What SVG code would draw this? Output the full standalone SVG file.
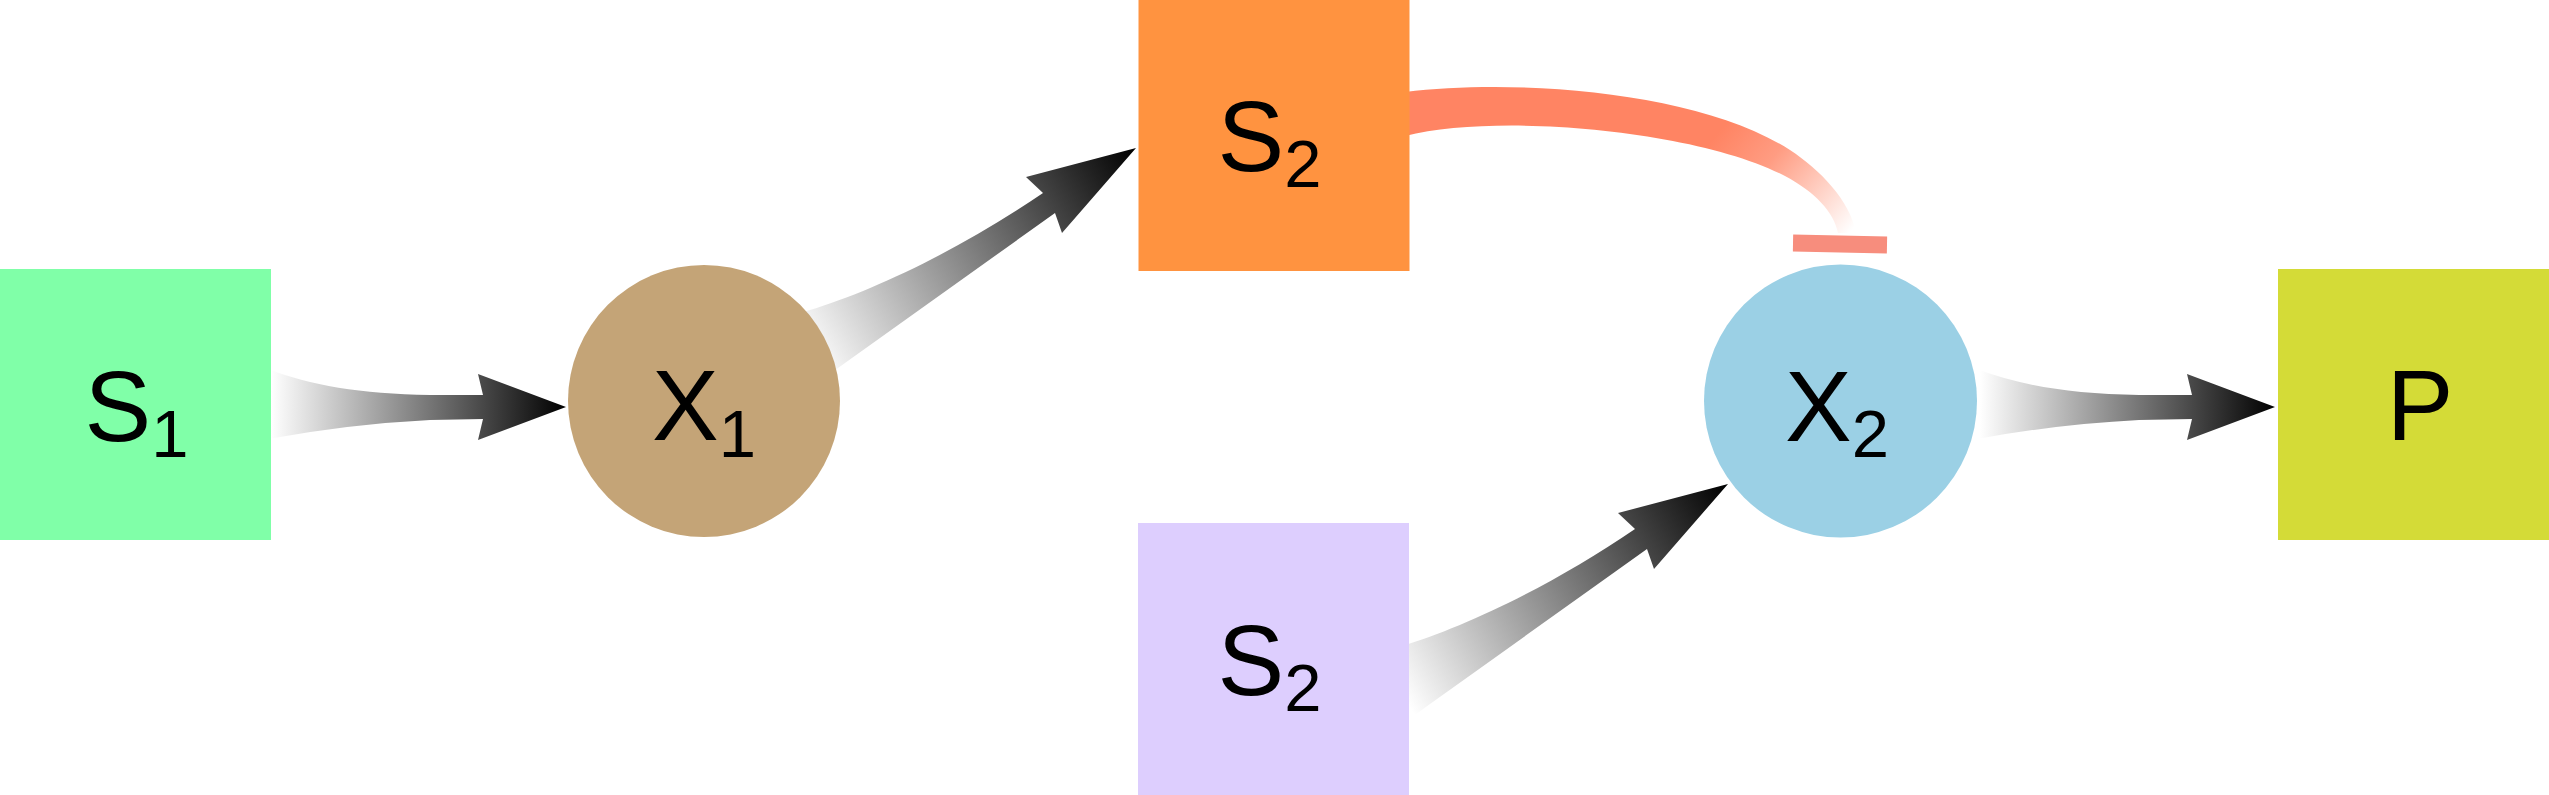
<svg xmlns="http://www.w3.org/2000/svg" width="2549" height="795" viewBox="0 0 2549 795">
<defs>
<style>
.lbl{font-family:"Liberation Sans",Arial,sans-serif;font-size:100px;fill:#000;text-anchor:middle}
.sub{font-size:67px}
</style>
<linearGradient id="gH" gradientUnits="userSpaceOnUse" x1="271" y1="404" x2="566" y2="407"><stop offset="0" stop-color="#fff"/><stop offset="1" stop-color="#000"/></linearGradient>
<linearGradient id="gD" gradientUnits="userSpaceOnUse" x1="805" y1="350" x2="1136" y2="148"><stop offset="0" stop-color="#fff"/><stop offset="1" stop-color="#000"/></linearGradient>
<linearGradient id="gI" gradientUnits="userSpaceOnUse" x1="1725" y1="125" x2="1850" y2="232"><stop offset="0" stop-color="#FF8463"/><stop offset="0.35" stop-color="#FF9C82"/><stop offset="1" stop-color="#fff"/></linearGradient>
<path id="arrowH" fill="url(#gH)" d="M268,369 C310,385 360,394 430,395 L483,395 L478,374 L566,407 L478,440 L483,419 L430,420 Q350,424 268,439 Z"/>
<path id="arrowD" fill="url(#gD)" d="M790,316 L810,310 C870,292 960,250 1043,193 L1026,177 L1136,148 L1062,233 L1055,213 Q950,288 838,368 L805,392 Z"/>
</defs>
<rect width="2549" height="795" fill="#fff"/>
<g id="connectors">
<use id="e-s1-x1" href="#arrowH"/>
<use id="e-x2-p" href="#arrowH" x="1709"/>
<use id="e-x1-s2" href="#arrowD"/>
<use id="e-s2b-x2" href="#arrowD" x="592" y="336"/>
<g id="e-s2-x2-inhibit">
<path fill="url(#gI)" d="M1400,92 L1405,92 C1520,78 1700,92 1790,150 C1820,170 1850,200 1856,233 L1838,233 C1834,212 1815,192 1785,176 C1700,131 1500,112 1405,136 L1400,136 Z"/>
<rect x="1793" y="235.5" width="94" height="17" fill="#F78D7D" transform="rotate(1.1 1840 244)"/>
</g>
</g>
<g id="node-S1">
<rect x="0" y="269" width="271" height="271" fill="#80FFA8"/>
<text class="lbl" x="136.5" y="441">S<tspan class="sub" dy="16">1</tspan></text>
</g>
<g id="node-X1">
<circle cx="704" cy="401" r="136" fill="#C4A477"/>
<text class="lbl" x="704" y="440">X<tspan class="sub" dy="17">1</tspan></text>
</g>
<g id="node-S2-top">
<rect x="1138.5" y="0" width="271" height="271" fill="#FF9340"/>
<text class="lbl" x="1269.5" y="171">S<tspan class="sub" dy="16">2</tspan></text>
</g>
<g id="node-S2-bottom">
<rect x="1138" y="523" width="271" height="272" fill="#DDCEFE"/>
<text class="lbl" x="1269.5" y="695">S<tspan class="sub" dy="16">2</tspan></text>
</g>
<g id="node-X2">
<circle cx="1840.5" cy="401" r="136.5" fill="#9BD0E5"/>
<text class="lbl" x="1837" y="441">X<tspan class="sub" dy="16">2</tspan></text>
</g>
<g id="node-P">
<rect x="2278" y="269" width="271" height="271" fill="#D4DB37"/>
<text class="lbl" x="2420" y="440">P</text>
</g>
</svg>
